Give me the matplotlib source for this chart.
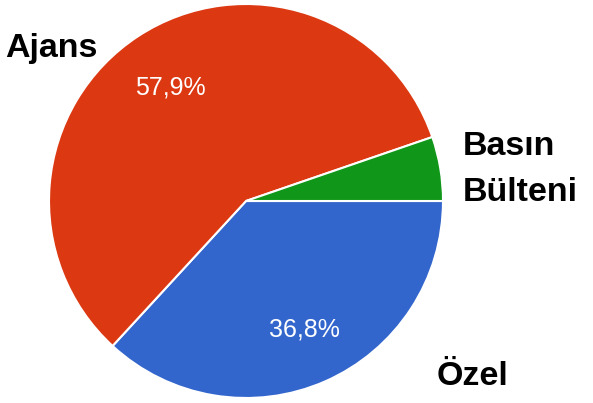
import matplotlib.pyplot as plt

# answers (counts), clockwise from 3 o'clock
labels = ["Özel", "Ajans", "Basın Bülteni"]
values = [7, 11, 1]
colors = ["#3366cc", "#dc3912", "#109618"]

plt.rcParams["font.family"] = ["Liberation Sans", "DejaVu Sans"]

fig = plt.figure(figsize=(5.93, 4.03), dpi=100)
ax = fig.add_axes([0, 0, 1, 1])


def pct(p):
    if p < 10:
        return ""
    return f"{p:.1f}%".replace(".", ",")


wedges, texts, autotexts = ax.pie(values, colors=colors, startangle=0, counterclock=False,
                                  center=(246, 202), radius=197, autopct=pct, pctdistance=0.6,
                                  wedgeprops=dict(edgecolor="white", linewidth=1.5),
                                  textprops=dict(color="white", fontsize=18))
ax.set_xlim(0, 593)
ax.set_ylim(0, 403)
ax.set_aspect("equal")
ax.axis("off")

# move percent labels to where the original shows them
autotexts[0].set_position((304, 74))
autotexts[1].set_position((170, 316))

# outside labels
lab_font = dict(fontsize=24.5, fontweight="bold", va="baseline", ha="left")
ax.text(5, 346, labels[1], **lab_font)
ax.text(463, 248, "Basın", **lab_font)
ax.text(463, 202, "Bülteni", **lab_font)
ax.text(437, 18, labels[0], **lab_font)

fig.savefig("out.png", dpi=100)
